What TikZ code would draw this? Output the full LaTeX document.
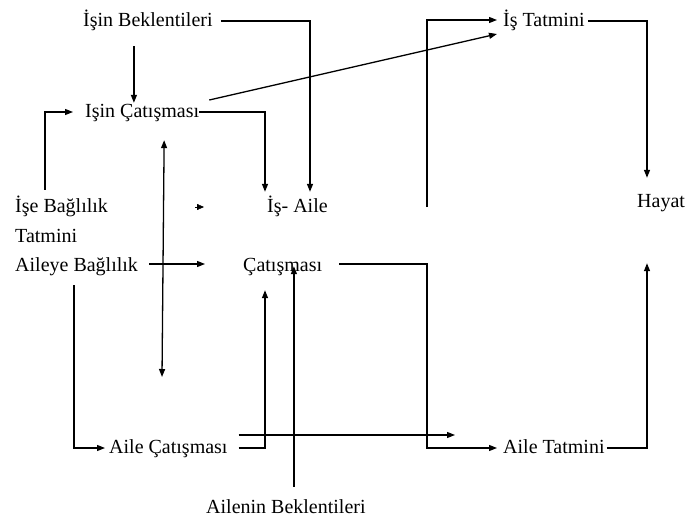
\documentclass[tikz,border=0pt]{standalone}
\usepackage{fontspec}
\setmainfont{Liberation Serif}
\usetikzlibrary{arrows.meta,calc}
\begin{document}
\begin{tikzpicture}[x=1pt,y=-1pt,
  lbl/.style={inner sep=0pt,text height=14pt,text depth=4pt,anchor=base west,
    font=\fontsize{20}{24}\selectfont},
  conn/.style={line width=1.3pt,-{Triangle[length=8pt,width=6pt]}},
  conn2/.style={line width=1.3pt,{Triangle[length=8pt,width=6pt]}-{Triangle[length=8pt,width=6pt]}},
  tip/.style={-{Triangle[length=7pt,width=6pt]}}
]
\useasboundingbox (0,0) rectangle (686,517);

% labels
\node[lbl] (ib)  at (83,26)   {İşin Beklentileri};
\node[lbl] (it)  at (503,26)  {İş Tatmini};
\node[lbl] (ic)  at (85,117)  {Işin Çatışması};
\node[lbl] (isb) at (15,212)  {İşe Bağlılık};
\node[lbl] (tat) at (15,242)  {Tatmini};
\node[lbl] (ab)  at (15,271)  {Aileye Bağlılık};
\node[lbl] (ia)  at (267,212) {İş- Aile};
\node[lbl] (cat) at (243,271) {Çatışması};
\node[lbl] (hay) at (637,207) {Hayat};
\node[lbl] (ac)  at (109,453) {Aile Çatışması};
\node[lbl] (at)  at (503,453) {Aile Tatmini};
\node[lbl] (anb) at (206,513) {Ailenin Beklentileri};

% free ends
\coordinate (f1) at (427,207);
\coordinate (d1) at (162,377);
\coordinate (g1) at (195,207);
\coordinate (g2) at (204,207);
\path ([shift={(0,3)}]cat.south) coordinate (cs);

% connectors
\draw[conn,shorten >=6pt] ([xshift=8pt]ib.east) -| ([xshift=43pt]ia.north west);
\draw[conn,shorten <=16pt] ([xshift=-14pt]ib.south) -- ([xshift=-14pt]ib.south |- ic.north);
\draw[conn,shorten >=6pt] (ic.east) -| ([xshift=-2pt]ia.north west);
\draw[conn] ([shift={(10,-12)}]ic.east) -- ([shift={(-6,13)}]it.west);
\draw[conn] (f1) |- ([shift={(-6,-1)}]it.west);
\draw[conn,shorten >=15pt] ([xshift=3pt]it.east) -| ([xshift=10pt]hay.north west);
\draw[conn] ([shift={(30,-8)}]isb.north west) |- ([xshift=-12pt]ic.west);
\draw[conn2] ([shift={(22,19)}]ic.south) -- (d1);
\draw[tip] (g1) -- (g2);
\draw[conn] ([shift={(11,-2)}]ab.east) -- ([shift={(-38,-2)}]cat.west);
\draw[conn] ([shift={(17,-2)}]cat.east) -| ([xshift=-76pt]at.west) -- ([xshift=-6pt]at.west);
\draw[conn] ([xshift=2pt]at.east) -| ([shift={(10,52)}]hay.south west);
\draw[conn] ([shift={(59,10)}]ab.south west) |- ([xshift=-4pt]ac.west);
\draw[conn] ([xshift=11pt]ac.east) -| ([shift={(22,15)}]cat.south west);
\draw[conn] ([shift={(11,-13)}]ac.east) -- ([shift={(-48,-13)}]at.west);
\draw[conn] ([shift={(8,-12)}]anb.north) -- ([shift={(8,-12)}]anb.north |- cs);
\end{tikzpicture}
\end{document}
